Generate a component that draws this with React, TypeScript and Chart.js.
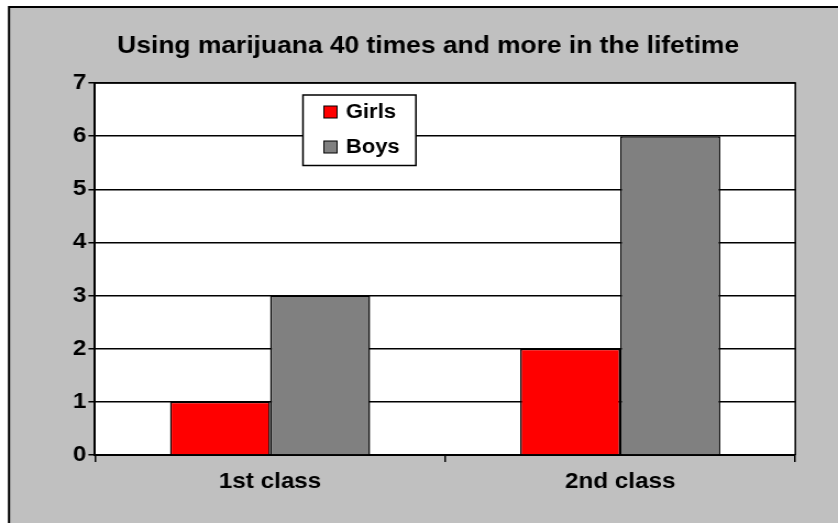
import React, { useEffect, useRef } from 'react';
import { Chart, registerables } from 'chart.js';

Chart.register(...registerables);

const titleText = 'Using marijuana 40 times and more in the lifetime';
const categories = ['1st class', '2nd class'];
const seriesNames = ['Girls', 'Boys'];
const girls = [1, 2];
const boys = [3, 6];
const seriesColors = ['#FF0000', '#808080'];
const yTicks = [0, 1, 2, 3, 4, 5, 6, 7];

const FONT = '"Liberation Sans", Arial, Helvetica, sans-serif';
const W = 762;
const H = 523;

const excelPlugin = {
  id: 'excelLook',
  beforeDraw(chart: any) {
    const { ctx, chartArea: a } = chart;
    ctx.save();
    ctx.fillStyle = '#FFFFFF';
    ctx.fillRect(0, 0, chart.width, chart.height);
    ctx.fillStyle = '#C0C0C0';
    ctx.fillRect(8.2, 7, chart.width, chart.height);
    ctx.strokeStyle = '#000000';
    ctx.lineWidth = 2;
    ctx.strokeRect(8.2, 7, chart.width + 20, chart.height + 20);
    ctx.fillStyle = '#FFFFFF';
    ctx.fillRect(a.left, a.top, a.right - a.left, a.bottom - a.top);
    ctx.restore();
  },
  afterDraw(chart: any) {
    const { ctx, chartArea: a } = chart;
    ctx.save();
    ctx.strokeStyle = '#000000';
    ctx.lineWidth = 1.5;
    ctx.beginPath();
    ctx.moveTo(a.left, a.top);
    ctx.lineTo(a.right, a.top);
    ctx.lineTo(a.right, a.bottom);
    ctx.stroke();

    // legend box
    const bx = 275.5, by = 95, bw = 102.7, bh = 70.5;
    ctx.fillStyle = '#FFFFFF';
    ctx.fillRect(bx, by, bw, bh);
    ctx.lineWidth = 1.5;
    ctx.strokeRect(bx, by, bw, bh);
    ctx.font = `bold 20px ${FONT}`;
    ctx.textBaseline = 'middle';
    ctx.textAlign = 'left';
    chart.data.datasets.forEach((ds: any, i: number) => {
      const cy = 112 + i * 35;
      ctx.fillStyle = ds.backgroundColor;
      ctx.fillRect(294.5, cy - 6, 12, 12);
      ctx.lineWidth = 1;
      ctx.strokeStyle = '#000000';
      ctx.strokeRect(294.5, cy - 6, 12, 12);
      ctx.fillStyle = '#000000';
      ctx.fillText(ds.label, 314.5, cy);
    });
    ctx.restore();
  },
};

export default function App() {
  const ref = useRef<HTMLCanvasElement | null>(null);

  useEffect(() => {
    if (!ref.current) return;
    const chart = new Chart(ref.current, {
      type: 'bar',
      data: {
        labels: categories,
        datasets: [
          {
            label: seriesNames[0],
            data: girls,
            backgroundColor: seriesColors[0],
            borderColor: '#000000',
            borderWidth: 1.5,
            categoryPercentage: 0.5714,
            barPercentage: 1,
          },
          {
            label: seriesNames[1],
            data: boys,
            backgroundColor: seriesColors[1],
            borderColor: '#000000',
            borderWidth: 1.5,
            categoryPercentage: 0.5714,
            barPercentage: 1,
          },
        ],
      },
      options: {
        responsive: false,
        maintainAspectRatio: false,
        animation: false,
        devicePixelRatio: 1,
        font: { family: FONT },
        layout: { padding: { left: 55.4, right: 38.8, top: 8, bottom: 20 } },
        plugins: {
          legend: { display: false },
          tooltip: { enabled: false },
          title: {
            display: true,
            text: titleText,
            color: '#000000',
            font: { family: FONT, size: 24, weight: 'bold' },
            padding: { top: 23.8, bottom: 22.4 },
          },
        },
        scales: {
          x: {
            type: 'category',
            offset: true,
            afterFit: (s: any) => { s.height = 48; },
            grid: {
              display: true,
              offset: true,
              drawOnChartArea: false,
              drawTicks: true,
              tickLength: 7,
              color: '#000000',
              lineWidth: 1.5,
            },
            border: { display: true, color: '#000000', width: 2 },
            ticks: {
              color: '#000000',
              font: { family: FONT, size: 22, weight: 'bold' },
              padding: 7,
              maxRotation: 0,
              autoSkip: false,
            },
          },
          y: {
            min: yTicks[0],
            max: yTicks[yTicks.length - 1],
            afterFit: (s: any) => { s.width = 31; },
            afterBuildTicks: (s: any) => { s.ticks = yTicks.map((v) => ({ value: v })); },
            grid: {
              color: '#000000',
              lineWidth: 1.5,
              drawTicks: true,
              tickLength: 6,
            },
            border: { display: true, color: '#000000', width: 2 },
            ticks: {
              color: '#000000',
              font: { family: FONT, size: 22, weight: 'bold' },
              padding: 2,
            },
          },
        },
      },
      plugins: [excelPlugin],
    } as any);
    return () => chart.destroy();
  }, []);

  return (
    <canvas
      ref={ref}
      width={W}
      height={H}
      style={{ position: 'absolute', left: 0, top: 0, width: '838px', height: '523px' }}
    />
  );
}
